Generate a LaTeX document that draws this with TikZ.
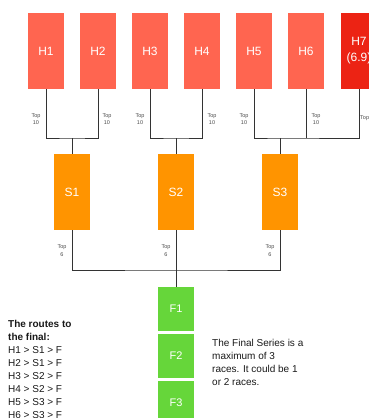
\documentclass[tikz,border=0pt]{standalone}
\usepackage{fontspec}
\setmainfont{Liberation Sans}
\usepackage{xcolor}
\usetikzlibrary{positioning}
\definecolor{heatred}{HTML}{FF6550}
\definecolor{heatdark}{HTML}{EC2314}
\definecolor{semiorange}{HTML}{FF9400}
\definecolor{finalgreen}{HTML}{66D63A}
\tikzstyle{heat} = [rectangle, minimum width=36pt, minimum height=76pt, outer sep=0pt, text centered, align=center, fill=heatred, text=white, font=\fontsize{12}{16}\selectfont]
\tikzstyle{semi} = [rectangle, minimum width=36pt, minimum height=76pt, outer sep=0pt, text centered, fill=semiorange, text=white, font=\fontsize{12}{16}\selectfont]
\tikzstyle{final} = [rectangle, minimum width=36pt, minimum height=44pt, outer sep=0pt, text centered, fill=finalgreen, text=white, font=\fontsize{11}{14}\selectfont]
\tikzstyle{toplabel} = [inner sep=0pt, align=center, text=black!70, font=\fontsize{5.5}{7.5}\selectfont]
\tikzstyle{note} = [inner sep=0pt, align=left, text=black!90, font=\fontsize{10}{13}\selectfont]
\tikzstyle{line} = [draw=black!80, line width=1pt]

\begin{document}
\begin{tikzpicture}[x=1pt, y=-1pt, node distance=16pt]
        \clip (0,0) rectangle (369,418);
        % heats
        \node (H1) [heat] at (46,51) {H1};
        \node (H2) [heat, right=of H1] {H2};
        \node (H3) [heat, right=of H2] {H3};
        \node (H4) [heat, right=of H3] {H4};
        \node (H5) [heat, right=of H4] {H5};
        \node (H6) [heat, right=of H5] {H6};
        \node (H7) [heat, right=17pt of H6, fill=heatdark] {H7\\(6.9)};

        % semis
        \node (S1) [semi] at (72,192) {S1};
        \node (S2) [semi, right=68pt of S1] {S2};
        \node (S3) [semi, right=68pt of S2] {S3};

        % final series
        \node (F1) [final] at (176,309) {F1};
        \node (F2) [final, below=3pt of F1] {F2};
        \node (F3) [final, below=3pt of F2] {F3};

        \coordinate (j1) at (72,138);
        \coordinate (j2) at (176,138);
        \coordinate (j3) at (280,138);
        \coordinate (j4) at (176,270);

        \draw [line] (H1.south) |- (j1) -| (H2.south);
        \draw [line] (j1) -- (S1.north);
        \draw [line] (H3.south) |- (j2) -| (H4.south);
        \draw [line] (j2) -- (S2.north);
        \draw [line] (H5.south) |- (j3) -| (H7.south);
        \draw [line] (H6.south) -- (H6.south |- j3);
        \draw [line] (j3) -- (S3.north);
        \draw [line] (S1.south) |- (j4) -| (S3.south);
        \draw [line] (S2.south) -- (F1.north);

        \node (t1) [toplabel] at (36,119) {Top\\10};
        \node (t2) [toplabel] at (107,119) {Top\\10};
        \node (t3) [toplabel] at (140,119) {Top\\10};
        \node (t4) [toplabel] at (212,119) {Top\\10};
        \node (t5) [toplabel] at (244,119) {Top\\10};
        \node (t6) [toplabel] at (316,119) {Top\\10};
        \node (t7) [toplabel, anchor=west] at (360,118.5) {Top 10};
        \node (u1) [toplabel] at (62,250.5) {Top\\6};
        \node (u2) [toplabel] at (166,250.5) {Top\\6};
        \node (u3) [toplabel] at (270,250.5) {Top\\6};

        \node (routes) [note, anchor=north west] at (8,320.5) {\textbf{The routes to}\\\textbf{the final:}\\H1 > S1 > F\\H2 > S1 > F\\H3 > S2 > F\\H4 > S2 > F\\H5 > S3 > F\\H6 > S3 > F};
        \node (series) [note, anchor=north west] at (212,339.5) {The Final Series is a\\maximum of 3\\races. It could be 1\\or 2 races.};
    \end{tikzpicture}
\end{document}
